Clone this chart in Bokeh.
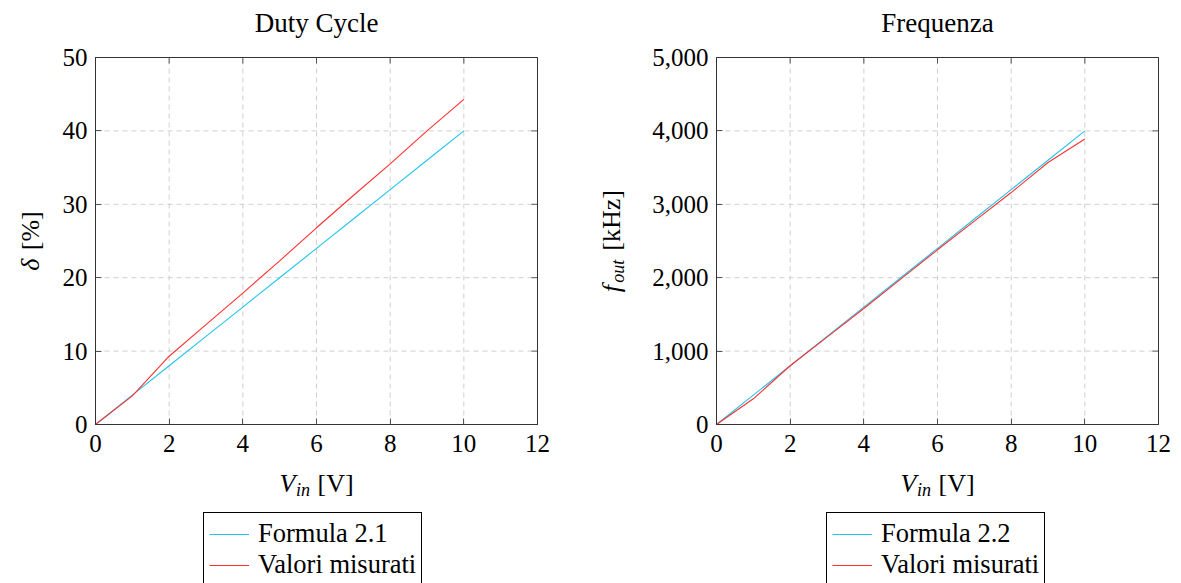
import math
from bokeh.plotting import figure
from bokeh.layouts import row
from bokeh.models import (FixedTicker, Label, NumeralTickFormatter, Range1d, BoxAnnotation)
from bokeh.embed import file_html
from bokeh.resources import INLINE

# ---------------- data ----------------
vin = [0, 1, 2, 3, 4, 5, 6, 7, 8, 9, 10]
duty_formula = [0, 4, 8, 12, 16, 20, 24, 28, 32, 36, 40]
duty_measured = [0, 3.9, 9.3, 13.6, 17.9, 22.3, 26.8, 31.2, 35.5, 40.0, 44.3]
freq_formula = [0, 400, 800, 1200, 1600, 2000, 2400, 2800, 3200, 3600, 4000]
freq_measured = [0, 350, 800, 1190, 1580, 1980, 2380, 2770, 3160, 3570, 3890]
x_ticks = [0, 2, 4, 6, 8, 10, 12]
duty_ticks = [0, 10, 20, 30, 40, 50]
freq_ticks = [0, 1000, 2000, 3000, 4000, 5000]
X_MAX = 12

SERIF = "Liberation Serif"
CYAN = "#22C3EE"
RED = "#FF3030"
FS = 25          # tick label size
LFS = 26         # axis label size
H = 583          # canvas height
TOP, BOTTOM = 57, 424   # plot box (canvas px)
TICK = 6


def add_pieces(p, x, y, pieces, xo, yo, angle=0.0):
    # pieces: (text, italic, size, width, baseline shift, gap before)
    total = sum(pc[3] + pc[5] for pc in pieces)
    cur = -total / 2.0
    for text, italic, size, w, shift, gap in pieces:
        cur += gap
        if angle == 0:
            lab = Label(x=x, y=y, x_offset=xo + cur, y_offset=yo - shift, text=text,
                        text_align="left", text_baseline="alphabetic")
        else:
            lab = Label(x=x, y=y, x_offset=xo + shift, y_offset=yo + cur, text=text,
                        angle=angle, text_align="left", text_baseline="alphabetic")
        lab.text_font = SERIF
        lab.text_font_size = f"{size}px"
        lab.text_font_style = "italic" if italic else "normal"
        lab.text_color = "black"
        p.add_layout(lab)
        cur += w


def make_plot(title, y_form, y_meas, yticks, ymax, labels, ylabel_pieces, ylab_base,
              width, left, right, legend_left, fmt=None):
    # data range chosen so that the plot box sits at (left..right, TOP..BOTTOM)
    kx = (right - left) / X_MAX
    ky = (BOTTOM - TOP) / ymax
    xr = Range1d(-left / kx, X_MAX + (width - right) / kx)
    yr = Range1d(-(H - BOTTOM) / ky, ymax + TOP / ky)
    p = figure(width=width, height=H, output_backend="svg", toolbar_location=None,
               x_range=xr, y_range=yr, min_border=0,
               min_border_left=0, min_border_right=0, min_border_top=0, min_border_bottom=0)
    p.background_fill_color = "white"
    p.border_fill_color = "white"
    p.outline_line_color = None
    p.xgrid.visible = False
    p.ygrid.visible = False

    # dashed grid inside the box
    gx = [t for t in x_ticks if 0 < t < X_MAX]
    gy = [t for t in yticks if 0 < t < ymax]
    p.segment(x0=gx, y0=[0] * len(gx), x1=gx, y1=[ymax] * len(gx),
              line_color="#CFCFCF", line_dash="5 4", line_width=1)
    p.segment(x0=[0] * len(gy), y0=gy, x1=[X_MAX] * len(gy), y1=gy,
              line_color="#CFCFCF", line_dash="5 4", line_width=1)
    # mirrored ticks on top and right edges
    p.segment(x0=x_ticks, y0=[ymax] * len(x_ticks), x1=x_ticks,
              y1=[ymax - TICK / ky] * len(x_ticks), line_color="#555555", line_width=1)
    p.segment(x0=[X_MAX] * len(yticks), y0=yticks, x1=[X_MAX - TICK / kx] * len(yticks),
              y1=yticks, line_color="#555555", line_width=1)

    p.line(vin, y_form, line_color=CYAN, line_width=1.1, legend_label=labels[0])
    p.line(vin, y_meas, line_color=RED, line_width=1.1, legend_label=labels[1])

    # box
    p.add_layout(BoxAnnotation(left=0, right=X_MAX, bottom=0, top=ymax, fill_alpha=0,
                               line_color="#333333", line_width=1, line_alpha=1))

    xa, ya = p.xaxis[0], p.yaxis[0]
    xa.fixed_location = 0
    ya.fixed_location = 0
    xa.bounds = (0, X_MAX)
    ya.bounds = (0, ymax)
    for ax in (xa, ya):
        ax.major_tick_in = TICK
        ax.major_tick_out = 0
        ax.minor_tick_line_color = None
        ax.axis_line_color = "#333333"
        ax.major_tick_line_color = "#555555"
        ax.major_label_text_font = SERIF
        ax.major_label_text_font_size = f"{FS}px"
        ax.major_label_text_color = "black"
    xa.major_label_standoff = 10
    ya.major_label_standoff = 8
    xa.ticker = FixedTicker(ticks=x_ticks)
    ya.ticker = FixedTicker(ticks=yticks)
    if fmt:
        ya.formatter = NumeralTickFormatter(format=fmt)

    # title
    p.add_layout(Label(x=X_MAX / 2, y=ymax, y_offset=35, text=title,
                       text_align="center", text_baseline="alphabetic", text_font=SERIF,
                       text_font_size="27px", text_color="black"))

    # x axis label  V_in [V]
    xl = [("V", True, LFS, 16.5, 0, 0), ("in", True, 18, 14.5, 6, 0),
          ("[V]", False, LFS, 36.0, 0, 7.0)]
    add_pieces(p, X_MAX / 2, 0, xl, 0, -(483 - BOTTOM))

    # y axis label (rotated)
    add_pieces(p, 0, ymax / 2.0, ylabel_pieces, ylab_base - left, 0, angle=math.pi / 2)

    lg = p.legend[0]
    lg.location = (legend_left, -3)   # box runs just past the bottom edge, as in the reference
    lg.label_text_font = SERIF
    lg.label_text_font_size = "26.5px"
    lg.label_text_color = "black"
    lg.border_line_color = "black"
    lg.border_line_width = 1
    lg.border_line_alpha = 1
    lg.background_fill_color = "white"
    lg.background_fill_alpha = 1
    lg.glyph_width = 40
    lg.glyph_height = 20
    lg.label_height = 25
    lg.label_standoff = 9
    lg.padding = 5
    lg.spacing = 0
    lg.margin = 0
    return p


duty_ylabel = [("δ", True, LFS, 13.5, 0, 0), ("[%]", False, LFS, 39.0, 0, 7.0)]
freq_ylabel = [("f", True, LFS, 9.5, 0, 0), ("out", True, 18, 24.0, 6, 0),
               ("[kHz]", False, LFS, 61.0, 0, 8.0)]

W1, W2 = 557, 624
p1 = make_plot("Duty Cycle", duty_formula, duty_measured, duty_ticks, 50,
               ["Formula 2.1", "Valori misurati"], duty_ylabel, 30,
               W1, 95, 537, 203)
p2 = make_plot("Frequenza", freq_formula, freq_measured, freq_ticks, 5000,
               ["Formula 2.2", "Valori misurati"], freq_ylabel, 611 - W1,
               W2, 716 - W1, 1158 - W1, 826 - W1, fmt="0,0")

layout = row(p1, p2, spacing=0)
open("out.html", "w").write(file_html(layout, INLINE))
